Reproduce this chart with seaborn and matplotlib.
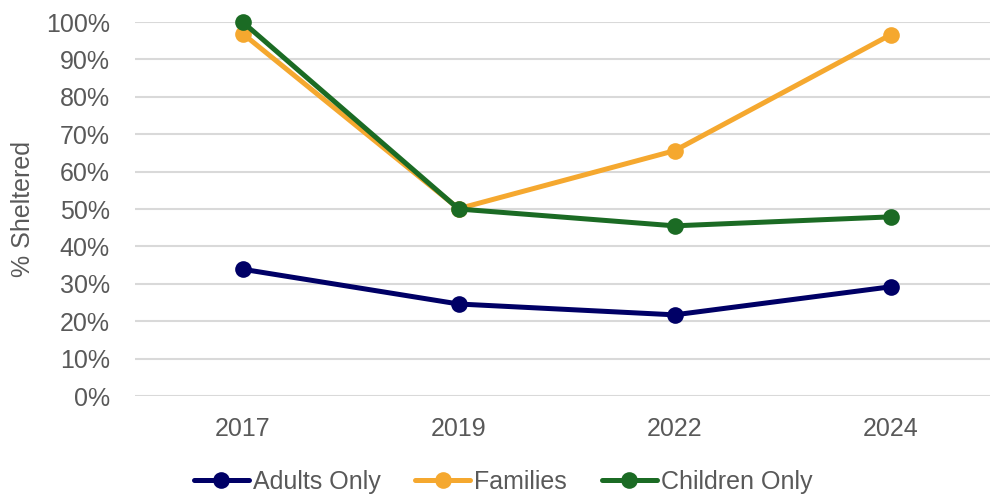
import pandas as pd
import matplotlib.pyplot as plt
import seaborn as sns
from matplotlib.ticker import PercentFormatter

years = ["2017", "2019", "2022", "2024"]
adults_only = [33.9, 24.6, 21.7, 29.2]
families = [96.9, 50.1, 65.6, 96.6]
children_only = [100.0, 50.0, 45.5, 47.9]

series = ["Adults Only", "Families", "Children Only"]
colors = ["#000066", "#F5A82F", "#1B6B24"]

df = pd.DataFrame({
    "year": years * 3,
    "pct": adults_only + families + children_only,
    "group": [s for s in series for _ in years],
})

sns.set_style("white")
plt.rcParams["font.family"] = ["Liberation Sans", "DejaVu Sans"]

fig = plt.figure(figsize=(9.9, 4.96), dpi=100)
ax = fig.add_axes([0.136, 0.2016, 0.864, 0.754])

sns.lineplot(data=df, x="year", y="pct", hue="group", hue_order=series,
             palette=colors, marker="o", markersize=12, markeredgewidth=0,
             linewidth=3.6, ax=ax, clip_on=False, sort=False)

ax.set_ylim(0, 100)
ax.set_xlim(-0.5, 3.46)
ax.set_yticks(range(0, 101, 10))
ax.yaxis.set_major_formatter(PercentFormatter(decimals=0))
ax.grid(axis="y", color="#d9d9d9", linewidth=1.5)
ax.set_axisbelow(True)
for sp in ax.spines.values():
    sp.set_visible(False)
ax.tick_params(axis="both", length=0, labelsize=18, labelcolor="#595959")
ax.tick_params(axis="x", pad=15)
ax.tick_params(axis="y", pad=18)
ax.set_xlabel("")
ax.set_ylabel("% Sheltered", fontsize=18, color="#595959", labelpad=8)

ax.legend(loc="center", bbox_to_anchor=(0.508, 0.028), bbox_transform=fig.transFigure,
          ncol=3, frameon=False, fontsize=18, labelcolor="#595959",
          handlelength=2.2, handletextpad=0.15, columnspacing=1.4)

fig.savefig("out.png", dpi=100)
